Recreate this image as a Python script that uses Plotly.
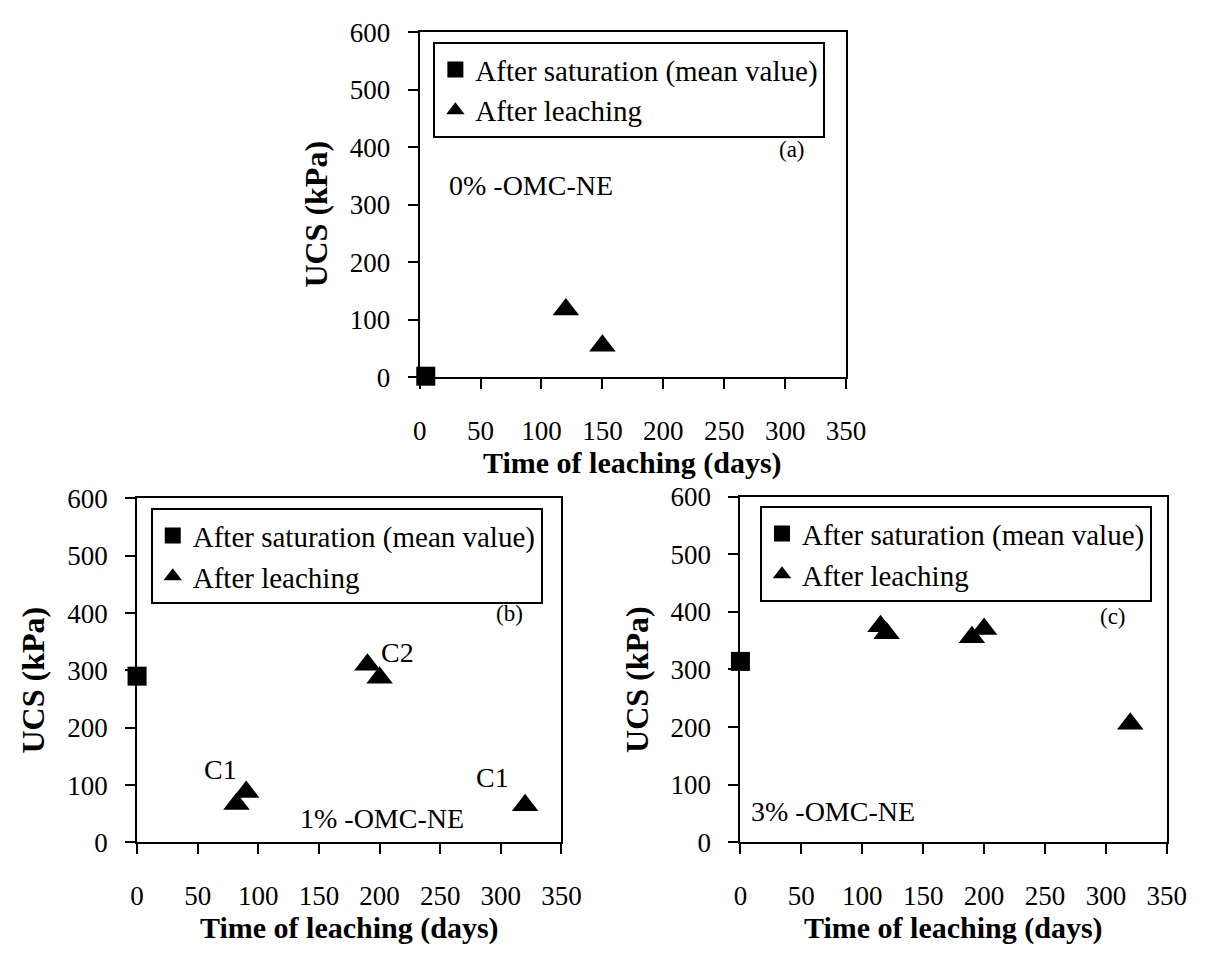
import plotly.graph_objects as go

# ---- data ----
a_sat_x = [5]
a_sat_y = [2]
a_leach_x = [120, 150]
a_leach_y = [118, 55]

b_sat_x = [0]
b_sat_y = [290]
b_leach_x = [82, 90, 190, 200, 320]
b_leach_y = [67, 88, 310, 287, 65]

c_sat_x = [0]
c_sat_y = [314]
c_leach_x = [115, 120, 190, 200, 320]
c_leach_y = [375, 363, 356, 370, 206]

x_ticks = [0, 50, 100, 150, 200, 250, 300, 350]
y_ticks = [0, 100, 200, 300, 400, 500, 600]

sat_name = "After saturation (mean value)"
leach_name = "After leaching"

W, H = 1222, 963
FONT = "Liberation Serif, Times New Roman, serif"

def px_x(p):
    return p / W

def px_y(p):
    return 1 - p / H

fig = go.Figure()

panels = [
    ("x", "y", "legend", a_sat_x, a_sat_y, a_leach_x, a_leach_y),
    ("x2", "y2", "legend2", b_sat_x, b_sat_y, b_leach_x, b_leach_y),
    ("x3", "y3", "legend3", c_sat_x, c_sat_y, c_leach_x, c_leach_y),
]
for xa, ya, lg, sx, sy, lx, ly in panels:
    fig.add_trace(go.Scatter(x=sx, y=sy, mode="markers", name=sat_name,
                             xaxis=xa, yaxis=ya, legend=lg, cliponaxis=False,
                             marker=dict(symbol="square", size=19, color="black")))
    fig.add_trace(go.Scatter(x=lx, y=ly, mode="markers", name=leach_name,
                             xaxis=xa, yaxis=ya, legend=lg, cliponaxis=False,
                             marker=dict(symbol="triangle-up", size=23, color="black")))

# panel pixel boxes: (left, right, top, bottom)
boxes = {
    "": (422, 858, 18, 374),
    "2": (133, 567, 499, 854),
    "3": (750, 1186, 497, 854),
}

axis_common = dict(showline=True, linecolor="black", linewidth=2, mirror=True,
                   ticks="outside", ticklen=10, tickwidth=2, tickcolor="black",
                   showgrid=False, zeroline=False,
                   tickfont=dict(family=FONT, size=27, color="black"))
layout = {}
for sfx, (l, r, t, b) in boxes.items():
    layout["xaxis" + sfx] = dict(domain=[px_x(l), px_x(r)], range=[0, 350],
                                 tickvals=x_ticks, ticklabelstandoff=18,
                                 anchor="y" + sfx, **axis_common)
    layout["yaxis" + sfx] = dict(domain=[px_y(b), px_y(t)], range=[0, 600],
                                 tickvals=y_ticks, ticklabelstandoff=12,
                                 anchor="x" + sfx, **axis_common)

leg_common = dict(bgcolor="white", bordercolor="black", borderwidth=2,
                  font=dict(family=FONT, size=29, color="black"),
                  xanchor="left", yanchor="top", tracegroupgap=0,
                  itemwidth=30)
layout["legend"] = dict(x=px_x(436), y=px_y(28), **leg_common)
layout["legend2"] = dict(x=px_x(147), y=px_y(509), **leg_common)
layout["legend3"] = dict(x=px_x(770), y=px_y(507), **leg_common)

fig.update_layout(width=W, height=H, margin=dict(l=0, r=0, t=0, b=0),
                  paper_bgcolor="white", plot_bgcolor="white",
                  font=dict(family=FONT, color="black"), **layout)

ann = []
# axis titles
for sfx, (l, r, t, b) in boxes.items():
    ann.append(dict(text="<b>UCS (kPa)</b>", xref="paper", yref="paper",
                    x=px_x(l - 106), y=px_y((t + b) / 2 + 10), textangle=-90,
                    xanchor="center", yanchor="middle",
                    showarrow=False, font=dict(family=FONT, size=32)))
    ann.append(dict(text="<b>Time of leaching (days)</b>", xref="paper", yref="paper",
                    x=px_x((l + r) / 2), y=px_y(b + 88),
                    xanchor="center", yanchor="middle",
                    showarrow=False, font=dict(family=FONT, size=30)))

# in-panel labels
labels = [
    ("x", "y", 306, 396, "(a)", 23),
    ("x", "y", 91, 333, "0% -OMC-NE", 28),
    ("x2", "y2", 307, 399, "(b)", 23),
    ("x2", "y2", 202, 42, "1% -OMC-NE", 28),
    ("x2", "y2", 69, 127, "C1", 28),
    ("x2", "y2", 215, 332, "C2", 28),
    ("x2", "y2", 293, 113, "C1", 28),
    ("x3", "y3", 306, 391, "(c)", 23),
    ("x3", "y3", 76, 53, "3% -OMC-NE", 28),
]
for xr, yr, x, y, txt, sz in labels:
    ann.append(dict(text=txt, xref=xr, yref=yr, x=x, y=y, showarrow=False,
                    xanchor="center", yanchor="middle",
                    font=dict(family=FONT, size=sz, color="black")))

fig.update_layout(annotations=ann)
fig.write_html("out.html", config={"displayModeBar": False},
               post_script="document.body.style.margin='0px';")
